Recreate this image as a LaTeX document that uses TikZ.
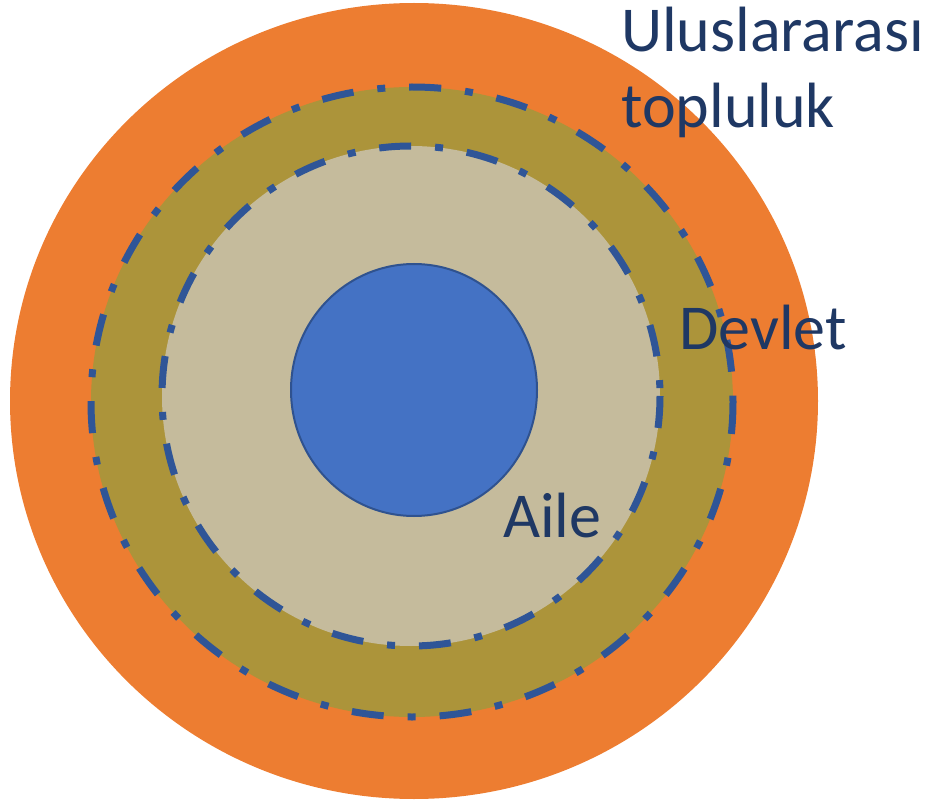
\documentclass[tikz,border=0pt]{standalone}
\usepackage{fontspec}
\setmainfont{Carlito}
\definecolor{orng}{HTML}{ED7D31}
\definecolor{olv}{HTML}{AC943A}
\definecolor{beig}{HTML}{C5BB9C}
\definecolor{bluefill}{HTML}{4472C4}
\definecolor{blueedge}{HTML}{2F528F}
\definecolor{dashc}{HTML}{2F5597}
\definecolor{txt}{HTML}{1F3864}
\tikzset{
  ring/.style={draw=dashc, line width=7pt, dash pattern=on 32pt off 24pt on 8pt off 24pt},
  lbl/.style={text=txt, font=\fontsize{64}{76}\selectfont, anchor=base west, inner sep=0pt}
}
\begin{document}
\begin{tikzpicture}[x=1pt,y=-1pt]
\useasboundingbox (0,0) rectangle (927,805);
\fill[orng] (414,401) ellipse [x radius=404, y radius=398];
\fill[olv] (412,402) ellipse [x radius=321, y radius=315];
\draw[ring] (412,402) ellipse [x radius=321, y radius=315];
\fill[beig] (411,396) ellipse [x radius=249, y radius=250];
\draw[ring] (411,396) ellipse [x radius=249, y radius=250];
\draw[fill=bluefill, draw=blueedge, line width=2pt] (414,390) ellipse [x radius=123, y radius=126];
\node[lbl] (intl1) at (621,52) {Uluslararası};
\node[lbl] (intl2) at (621,128) {topluluk};
\node[lbl] (state) at (679,349) {Devlet};
\node[lbl] (family) at (503,537) {Aile};
\end{tikzpicture}
\end{document}
